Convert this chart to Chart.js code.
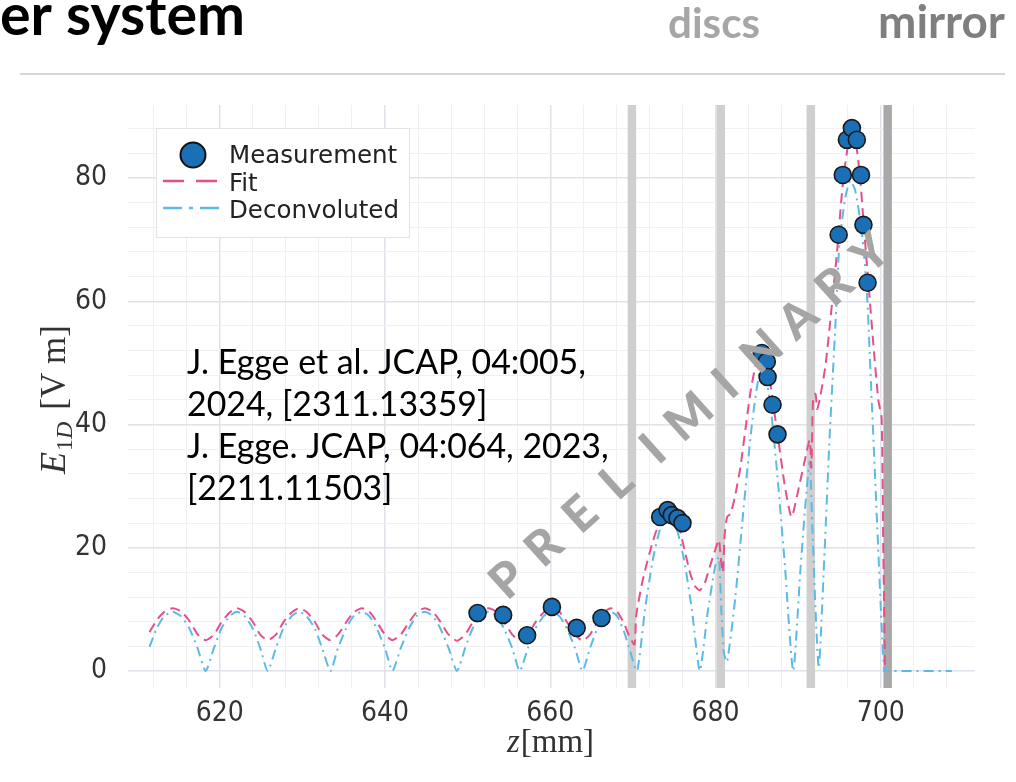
<!DOCTYPE html>
<html><head><meta charset="utf-8">
<script src="https://cdn.jsdelivr.net/npm/chart.js@4"></script>
<style>html,body{margin:0;padding:0;background:#fff;overflow:hidden}canvas{display:block}</style>
</head><body>
<canvas id="c" width="1016" height="782"></canvas>
<script>
// ---------- data ----------
const measZ = [651.2, 654.3, 657.2, 660.2, 663.2, 666.2, 673.3, 674.2, 674.7, 675.4, 676.0, 685.6, 686.2, 686.3, 686.9, 687.5, 694.9, 695.4, 695.9, 696.5, 697.1, 697.6, 697.9, 698.4];
const measE = [9.4, 9.1, 5.8, 10.4, 7.0, 8.6, 25.0, 26.1, 25.3, 24.8, 24.0, 51.6, 50.2, 47.7, 43.2, 38.4, 70.8, 80.5, 86.2, 88.1, 86.2, 80.5, 72.4, 63.0];

const fitZ = [611.5, 612.4, 613.3, 614.3, 615.3, 616.3, 617.3, 618.3, 619.3, 620.2, 621.2, 622.1, 623.0, 624.0, 624.9, 625.8, 626.8, 627.7, 628.7, 629.6, 630.5, 631.5, 632.4, 633.4, 634.3, 635.3, 636.2, 637.2, 638.1, 639.0, 640.0, 640.9, 641.9, 642.9, 643.8, 644.8, 645.8, 646.7, 647.7, 648.7, 649.7, 650.6, 651.6, 652.5, 653.5, 654.4, 655.4, 656.3, 657.3, 658.2, 659.2, 660.1, 661.1, 662.0, 663.0, 663.9, 664.8, 665.7, 666.5, 667.3, 668.1, 668.9, 669.6, 670.2,
  670.4, 671.2, 672.4, 673.4, 674.4, 675.3, 676.1, 676.9, 677.5, 678.1, 678.7, 679.3, 680.0, 680.4, 680.7, 680.9, 681.1, 681.4, 681.8, 682.3, 683.0, 684.2, 685.0, 685.6, 686.2, 686.9, 687.5, 688.4, 689.2, 690.1, 691.0, 691.4, 691.6, 691.8, 692.1, 692.3, 692.6, 693.3, 693.9, 694.7, 695.4, 696.0, 696.5, 697.0, 697.5, 697.9, 698.5, 699.1, 699.7, 700.1, 700.3, 700.5];
const fitE = [6.3, 8.3, 9.6, 10.2, 9.7, 8.2, 6.0, 5.0, 5.9, 7.9, 9.5, 10.2, 9.6, 8.0, 5.9, 5.0, 5.9, 7.9, 9.5, 10.2, 9.6, 8.0, 5.9, 5.0, 5.9, 7.9, 9.5, 10.2, 9.6, 8.0, 5.9, 5.0, 5.9, 7.9, 9.5, 10.2, 9.6, 8.0, 5.9, 4.9, 5.9, 7.9, 9.5, 10.2, 9.6, 8.0, 5.9, 5.0, 5.9, 7.9, 9.5, 10.2, 9.6, 8.0, 5.9, 4.9, 5.9, 7.9, 9.5, 10.2, 9.6, 7.8, 5.5, 4.3,
  9.0, 14.8, 21.0, 24.6, 25.8, 24.6, 20.5, 16.0, 13.8, 13.1, 14.3, 16.9, 19.8, 21.3, 17.5, 16.0, 22.0, 25.0, 25.5, 28.0, 33.0, 45.0, 50.5, 52.0, 50.5, 44.0, 38.5, 29.9, 25.0, 29.9, 35.4, 37.5, 33.0, 44.0, 45.0, 42.5, 44.0, 49.5, 57.0, 68.0, 79.0, 85.0, 87.0, 85.5, 80.0, 73.0, 63.0, 53.0, 44.0, 41.0, 20.0, 0.0];

const deconvZ = [611.5, 612.4, 613.3, 614.3, 615.3, 616.3, 617.3, 618.3, 619.3, 620.2, 621.2, 622.1, 623.0, 624.0, 624.9, 625.8, 626.8, 627.7, 628.7, 629.6, 630.5, 631.5, 632.4, 633.4, 634.3, 635.3, 636.2, 637.2, 638.1, 639.0, 640.0, 640.9, 641.9, 642.9, 643.8, 644.8, 645.8, 646.7, 647.7, 648.7, 649.7, 650.6, 651.6, 652.5, 653.5, 654.4, 655.4, 656.3, 657.3, 658.2, 659.2, 660.1, 661.1, 662.0, 663.0, 663.9, 664.8, 665.7, 666.5, 667.3, 668.1, 668.9, 669.6, 670.5,
  671.45, 672.4, 673.35, 674.3, 675.25, 676.2, 677.15, 678.1, 679.05, 680.0, 680.4, 680.7, 681.0, 681.4, 682.4, 683.3, 684.4, 685.4, 686.4, 687.4, 688.4, 689.4, 690.3, 691.0, 691.4, 691.7, 692.1, 692.5, 693.2, 693.8, 694.5, 695.0, 695.7, 696.3, 696.9, 697.7, 698.3, 698.9, 699.5, 700.1, 700.4, 700.6, 701.2, 708.6];
const deconvE = [3.9, 7.0, 8.9, 9.6, 8.9, 7.0, 3.8, 0.0, 3.7, 6.9, 8.9, 9.6, 8.9, 6.9, 3.7, 0.0, 3.7, 6.9, 8.9, 9.6, 8.9, 6.9, 3.7, 0.0, 3.7, 6.9, 8.9, 9.6, 8.9, 6.9, 3.7, 0.0, 3.7, 6.9, 8.9, 9.6, 8.9, 6.9, 3.7, 0.0, 3.7, 6.9, 8.9, 9.6, 8.9, 6.9, 3.7, 0.0, 3.7, 6.9, 8.9, 9.6, 8.9, 6.9, 3.7, 0.0, 3.7, 6.9, 8.9, 9.6, 8.9, 6.5, 3.5, 0.0,
  9.8, 18.0, 23.3, 25.3, 23.3, 18.0, 9.8, 0.0, 9.5, 17.3, 18.5, 10.0, 3.0, 1.5, 12.0, 25.0, 40.0, 48.5, 45.5, 33.0, 17.0, 0.0, 17.0, 29.0, 34.0, 24.0, 10.0, 0.5, 19.5, 37.8, 56.0, 69.5, 76.8, 79.6, 78.0, 71.3, 62.0, 44.0, 25.6, 7.3, 0.0, 0.0, 0.0, 0.0];

const discZ = [669.85, 680.6, 691.5];
const mirrorZ = [700.8];
const xTickLabels = [620, 640, 660, 680, 700];
const yTickLabels = [0, 20, 40, 60, 80];
const seriesNames = ['Measurement', 'Fit', 'Deconvoluted'];
const citationLines = ['J. Egge et al. JCAP, 04:005,', '2024, [2311.13359]', 'J. Egge. JCAP, 04:064, 2023,', '[2211.11503]'];
const headerLeft = 'er system';
const headerLabels = ['discs', 'mirror'];
const watermark = 'PRELIMINARY';

// ---------- styles ----------
const C_MEAS = '#1b6fb4', C_FIT = '#e5508a', C_DEC = '#5bbbe6';
const DASH_FIT = [10, 6], DASH_DEC = [10, 5, 2, 5];
const TICKFONT = "'Liberation Sans Narrow', 'DejaVu Sans Condensed', 'Roboto Condensed', Roboto, sans-serif";

const pts = (xs, ys) => xs.map((x, i) => ({x, y: ys[i]}));

const bandsPlugin = {
  id: 'bands',
  beforeDatasetsDraw(chart) {
    const {ctx, chartArea: a, scales: {x}} = chart;
    ctx.save();
    ctx.fillStyle = '#cfcfcf';
    discZ.forEach(z => { const p = x.getPixelForValue(z); ctx.fillRect(p - 4, a.top, 8.5, a.bottom - a.top); });
    ctx.fillStyle = '#a9a9a9';
    mirrorZ.forEach(z => { const p = x.getPixelForValue(z); ctx.fillRect(p - 4, a.top, 8.5, a.bottom - a.top); });
    ctx.restore();
  }
};

function fitFont(ctx, text, weight, family, width) {
  ctx.font = weight + ' 100px ' + family;
  const w = ctx.measureText(text).width;
  const s = 100 * width / w;
  ctx.font = weight + ' ' + s.toFixed(2) + 'px ' + family;
  return s;
}

const overlayPlugin = {
  id: 'overlay',
  afterDraw(chart) {
    const ctx = chart.ctx;
    ctx.save();
    ctx.textBaseline = 'alphabetic';
    // header
    ctx.fillStyle = '#000';
    fitFont(ctx, headerLeft, 'bold', 'Lato, sans-serif', 245);
    ctx.textAlign = 'left';
    ctx.fillText(headerLeft, 0, 35);
    ctx.fillStyle = '#a6a6a6';
    fitFont(ctx, headerLabels[0], 'bold', 'Lato, sans-serif', 92);
    ctx.fillText(headerLabels[0], 668, 38);
    ctx.fillStyle = '#7f7f7f';
    fitFont(ctx, headerLabels[1], 'bold', 'Lato, sans-serif', 127);
    ctx.fillText(headerLabels[1], 878, 38);
    ctx.strokeStyle = '#d6d6d6'; ctx.lineWidth = 2;
    ctx.beginPath(); ctx.moveTo(20, 74); ctx.lineTo(1005, 74); ctx.stroke();

    // citation
    ctx.fillStyle = '#000';
    fitFont(ctx, citationLines[0], 'normal', 'Lato, sans-serif', 399);
    citationLines.forEach((t, i) => ctx.fillText(t, 187, 374 + i * 42));

    // legend
    ctx.fillStyle = '#fff';
    ctx.fillRect(156, 128, 253, 109);
    ctx.strokeStyle = '#e2e2e2'; ctx.lineWidth = 1;
    ctx.strokeRect(156.5, 128.5, 253, 109);
    ctx.beginPath(); ctx.arc(193, 155, 12.5, 0, Math.PI * 2);
    ctx.fillStyle = C_MEAS; ctx.fill(); ctx.lineWidth = 2; ctx.strokeStyle = '#111'; ctx.stroke();
    ctx.lineWidth = 2.5;
    ctx.strokeStyle = C_FIT; ctx.setLineDash([21, 12]);
    ctx.beginPath(); ctx.moveTo(163, 181); ctx.lineTo(219, 181); ctx.stroke();
    ctx.strokeStyle = C_DEC; ctx.setLineDash([19, 7, 4, 7]);
    ctx.beginPath(); ctx.moveTo(163, 208); ctx.lineTo(221, 208); ctx.stroke();
    ctx.setLineDash([]);
    ctx.fillStyle = '#222';
    ctx.font = "24.5px 'DejaVu Sans', sans-serif";
    ctx.fillText(seriesNames[0], 229, 163);
    ctx.fillText(seriesNames[1], 229, 191);
    ctx.fillText(seriesNames[2], 229, 218);

    // axis titles
    ctx.fillStyle = '#333';
    ctx.save();
    ctx.translate(65, 0);
    ctx.rotate(-Math.PI / 2);
    let xx = -474;
    ctx.font = "italic 36px 'Liberation Serif', serif";
    ctx.fillText('E', xx, 0); xx += ctx.measureText('E').width + 1;
    ctx.font = "24px 'Liberation Serif', serif";
    ctx.fillText('1', xx, 7); xx += ctx.measureText('1').width;
    ctx.font = "italic 24px 'Liberation Serif', serif";
    ctx.fillText('D', xx, 7); xx += ctx.measureText('D').width + 12;
    ctx.font = "35px 'Liberation Serif', serif";
    ctx.fillText('[V m]', xx, 0);
    ctx.restore();

    ctx.font = "italic 33px 'Liberation Serif', serif";
    const wz = ctx.measureText('z').width;
    ctx.font = "33px 'Liberation Serif', serif";
    const wm = ctx.measureText('[mm]').width;
    let sx = 550 - (wz + wm) / 2;
    ctx.font = "italic 33px 'Liberation Serif', serif";
    ctx.fillText('z', sx, 752);
    ctx.font = "33px 'Liberation Serif', serif";
    ctx.fillText('[mm]', sx + wz + 1, 752);

    // watermark
    ctx.save();
    ctx.fillStyle = '#a5a5a5';
    ctx.font = "900 48px Lato, sans-serif";
    ctx.textAlign = 'center';
    ctx.textBaseline = 'middle';
    const p0 = {x: 508, y: 580}, p1 = {x: 871, y: 254};
    const ang = Math.atan2(p1.y - p0.y, p1.x - p0.x);
    const n = watermark.length;
    for (let i = 0; i < n; i++) {
      const t = i / (n - 1);
      ctx.save();
      ctx.translate(p0.x + (p1.x - p0.x) * t, p0.y + (p1.y - p0.y) * t);
      ctx.rotate(ang);
      ctx.fillText(watermark[i], 0, 0);
      ctx.restore();
    }
    ctx.restore();
    ctx.restore();
  }
};

const isMajor = c => c.tick && Math.abs(c.tick.value % 20) < 1e-6;
const gridColor = c => isMajor(c) ? '#e1e1ea' : '#f0f0f4';

new Chart(document.getElementById('c'), {
  type: 'scatter',
  data: {
    datasets: [
      {label: seriesNames[0], data: pts(measZ, measE), pointRadius: 8.5, pointHoverRadius: 8.5,
       backgroundColor: C_MEAS, borderColor: '#1a1a1a', borderWidth: 1.6, order: 0},
      {label: seriesNames[1], data: pts(fitZ, fitE), showLine: true, pointRadius: 0, borderColor: C_FIT,
       borderWidth: 2, borderDash: DASH_FIT, tension: 0.2, order: 1},
      {label: seriesNames[2], data: pts(deconvZ, deconvE), showLine: true, pointRadius: 0, borderColor: C_DEC,
       borderWidth: 2, borderDash: DASH_DEC, tension: 0.2, order: 2}
    ]
  },
  options: {
    responsive: false, animation: false, devicePixelRatio: 1,
    layout: {padding: {left: 0, right: 41, top: 105, bottom: 0}},
    plugins: {legend: {display: false}, tooltip: {enabled: false}},
    scales: {
      x: {
        type: 'linear', min: 608.9, max: 711.4,
        afterFit: s => { s.height = 94; },
        border: {display: false},
        grid: {color: gridColor, lineWidth: c => isMajor(c) ? 1.5 : 1, drawTicks: false},
        ticks: {stepSize: 4, includeBounds: false, autoSkip: false, maxRotation: 0, padding: 9,
                color: '#333', font: {family: TICKFONT, size: 28},
                callback: v => xTickLabels.includes(v) ? String(v) : ''}
      },
      y: {
        type: 'linear', min: -2.76, max: 91.85,
        afterFit: s => { s.width = 128; },
        border: {display: false},
        grid: {color: gridColor, lineWidth: c => isMajor(c) ? 1.5 : 1, drawTicks: false},
        ticks: {stepSize: 4, includeBounds: false, autoSkip: false, padding: 21,
                color: '#333', font: {family: TICKFONT, size: 28},
                callback: v => yTickLabels.includes(v) ? String(v) : ''}
      }
    }
  },
  plugins: [bandsPlugin, overlayPlugin]
});
</script>
</body></html>
